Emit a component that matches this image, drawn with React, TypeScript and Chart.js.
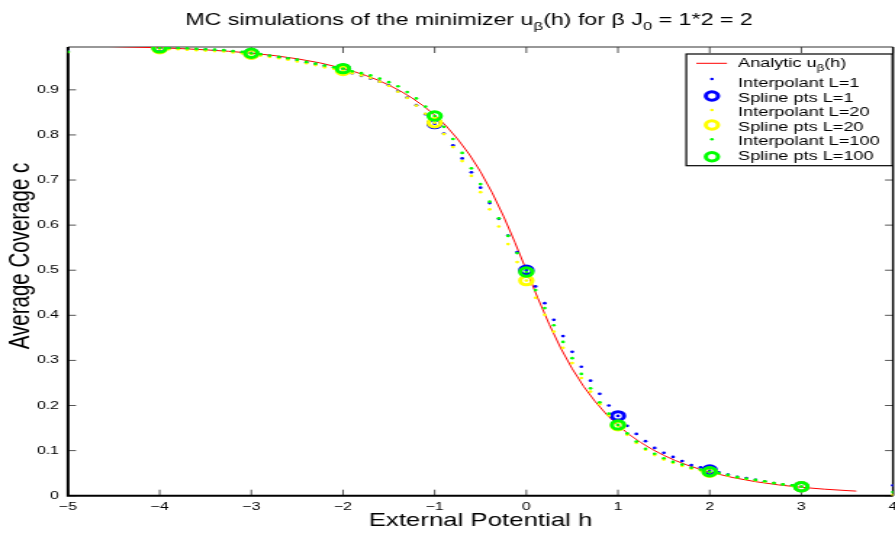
import React, { useEffect, useRef } from 'react';
import { Chart, registerables } from 'chart.js';
Chart.register(...registerables);

// The reference picture is horizontally stretched; draw on a narrower canvas and stretch it.
const W = 617;
const H = 533;
const SX = 895 / W;
const FONT = '"Liberation Sans", Arial, Helvetica, sans-serif';

// ---------- data ----------
const xTickValues = [-5, -4, -3, -2, -1, 0, 1, 2, 3, 4];
const xTickLabels = ['\u22125', '\u22124', '\u22123', '\u22122', '\u22121', '0', '1', '2', '3', '4'];
const yTickValues = [0, 0.1, 0.2, 0.3, 0.4, 0.5, 0.6, 0.7, 0.8, 0.9];
const yTickLabels = ['0', '0.1', '0.2', '0.3', '0.4', '0.5', '0.6', '0.7', '0.8', '0.9'];

// Analytic curve u_beta(h)
const analyticH = [-5, -4.5, -4, -3.75, -3.5, -3.25, -3, -2.75, -2.5, -2.25, -2, -1.875, -1.75, -1.625, -1.5, -1.375, -1.25, -1.125, -1, -0.875, -0.75, -0.625, -0.5, -0.375, -0.25, -0.125, 0, 0.125, 0.25, 0.375, 0.5, 0.625, 0.75, 0.875, 1, 1.125, 1.25, 1.375, 1.5, 1.625, 1.75, 1.875, 2, 2.25, 2.5, 2.75, 3, 3.25, 3.5, 3.6];
const analyticC = [0.9975, 0.9959, 0.9933, 0.9913, 0.9887, 0.9855, 0.9814, 0.976, 0.9689, 0.9597, 0.9476, 0.9402, 0.9317, 0.922, 0.9106, 0.8974, 0.8823, 0.8647, 0.844, 0.82, 0.791, 0.7576, 0.7185, 0.6727, 0.62, 0.5619, 0.5, 0.4381, 0.38, 0.3273, 0.2815, 0.2424, 0.209, 0.18, 0.156, 0.1353, 0.1177, 0.1026, 0.0894, 0.078, 0.0683, 0.0598, 0.0524, 0.0403, 0.0311, 0.024, 0.0186, 0.0145, 0.0113, 0.0102];

// Interpolant grid (h)
const interpH = [-5,
  -4, -3.9, -3.8, -3.7, -3.6, -3.5, -3.4, -3.3, -3.2, -3.1,
  -3, -2.9, -2.8, -2.7, -2.6, -2.5, -2.4, -2.3, -2.2, -2.1,
  -2, -1.9, -1.8, -1.7, -1.6, -1.5, -1.4, -1.3, -1.2, -1.1,
  -1, -0.9, -0.8, -0.7, -0.6, -0.5, -0.4, -0.3, -0.2, -0.1,
  0, 0.1, 0.2, 0.3, 0.4, 0.5, 0.6, 0.7, 0.8, 0.9,
  1, 1.1, 1.2, 1.3, 1.4, 1.5, 1.6, 1.7, 1.8, 1.9,
  2, 2.1, 2.2, 2.3, 2.4, 2.5, 2.6, 2.7, 2.8, 2.9,
  3, 4];

const interpL1 = [0.986,
  0.992, 0.992, 0.992, 0.991, 0.990, 0.989, 0.988, 0.987, 0.985, 0.983,
  0.980, 0.978, 0.975, 0.972, 0.969, 0.966, 0.961, 0.957, 0.953, 0.949,
  0.946, 0.937, 0.931, 0.925, 0.918, 0.910, 0.897, 0.883, 0.866, 0.846,
  0.825, 0.803, 0.777, 0.748, 0.717, 0.683, 0.649, 0.614, 0.577, 0.540,
  0.500, 0.464, 0.427, 0.390, 0.354, 0.319, 0.286, 0.255, 0.226, 0.200,
  0.177, 0.155, 0.137, 0.121, 0.106, 0.095, 0.086, 0.077, 0.068, 0.063,
  0.057, 0.052, 0.047, 0.042, 0.039, 0.035, 0.032, 0.028, 0.025, 0.023,
  0.020, 0.023];

const interpL20 = [0.984,
  0.991, 0.990, 0.990, 0.989, 0.988, 0.987, 0.986, 0.985, 0.983, 0.981,
  0.979, 0.976, 0.973, 0.970, 0.967, 0.963, 0.959, 0.955, 0.950, 0.947,
  0.943, 0.937, 0.932, 0.926, 0.918, 0.909, 0.896, 0.882, 0.865, 0.847,
  0.827, 0.802, 0.773, 0.742, 0.709, 0.673, 0.635, 0.597, 0.558, 0.518,
  0.477, 0.439, 0.401, 0.364, 0.328, 0.294, 0.261, 0.231, 0.203, 0.178,
  0.155, 0.135, 0.117, 0.102, 0.090, 0.080, 0.073, 0.066, 0.060, 0.056,
  0.052, 0.049, 0.045, 0.041, 0.037, 0.034, 0.031, 0.028, 0.025, 0.022,
  0.020, 0.002];

const interpL100 = [0.984,
  0.993, 0.993, 0.993, 0.992, 0.991, 0.990, 0.989, 0.988, 0.986, 0.984,
  0.981, 0.979, 0.976, 0.973, 0.970, 0.967, 0.962, 0.958, 0.954, 0.950,
  0.947, 0.941, 0.937, 0.932, 0.925, 0.917, 0.908, 0.895, 0.881, 0.863,
  0.842, 0.818, 0.791, 0.760, 0.726, 0.691, 0.652, 0.615, 0.576, 0.538,
  0.496, 0.456, 0.416, 0.378, 0.341, 0.305, 0.270, 0.238, 0.207, 0.182,
  0.157, 0.138, 0.120, 0.104, 0.093, 0.083, 0.075, 0.069, 0.062, 0.058,
  0.053, 0.050, 0.046, 0.041, 0.038, 0.035, 0.032, 0.028, 0.025, 0.023,
  0.020, 0.008];

// Spline points
const splineH = [-4, -3, -2, -1, 0, 1, 2, 3];
const splineL1 = [0.993, 0.980, 0.946, 0.825, 0.500, 0.177, 0.057, 0.020];
const splineL20 = [0.991, 0.979, 0.943, 0.827, 0.477, 0.155, 0.052, 0.020];
const splineL100 = [0.993, 0.981, 0.947, 0.842, 0.496, 0.157, 0.053, 0.020];

const legendLabels = ['Interpolant L=1', 'Spline pts L=1', 'Interpolant L=20', 'Spline pts L=20', 'Interpolant L=100', 'Spline pts L=100'];

const RED = '#ff0000';
const BLUE = '#0000ff';
const YELLOW = '#ffff00';
const GREEN = '#00ff00';

const pts = (xs: number[], ys: number[]) => xs.map((x, i) => ({ x, y: ys[i] }));

type Part = { t: string; sub?: boolean };

function drawRich(ctx: CanvasRenderingContext2D, parts: Part[], x: number, y: number, size: number, align: 'center' | 'left') {
  const subSize = size * 0.72;
  const widths = parts.map((p) => {
    ctx.font = `${p.sub ? subSize : size}px ${FONT}`;
    return ctx.measureText(p.t).width;
  });
  const total = widths.reduce((a, b) => a + b, 0);
  let cx = align === 'center' ? x - total / 2 : x;
  ctx.textAlign = 'left';
  ctx.textBaseline = 'alphabetic';
  parts.forEach((p, i) => {
    ctx.font = `${p.sub ? subSize : size}px ${FONT}`;
    ctx.fillText(p.t, cx, y + (p.sub ? size * 0.32 : 0));
    cx += widths[i];
  });
}

export default function App() {
  const ref = useRef<HTMLCanvasElement>(null);

  useEffect(() => {
    const canvas = ref.current;
    if (!canvas) return;

    const framePlugin = {
      id: 'frame',
      beforeDatasetsDraw(chart: any) {
        const { ctx, chartArea: a, scales } = chart;
        ctx.save();
        // tick marks (inside)
        ctx.strokeStyle = '#555';
        ctx.lineWidth = 1;
        ctx.beginPath();
        xTickValues.forEach((v) => {
          const px = scales.x.getPixelForValue(v);
          ctx.moveTo(px, a.bottom);
          ctx.lineTo(px, a.bottom - 6);
          ctx.moveTo(px, a.top);
          ctx.lineTo(px, a.top + 6);
        });
        yTickValues.forEach((v) => {
          const py = scales.y.getPixelForValue(v);
          ctx.moveTo(a.left, py);
          ctx.lineTo(a.left + 5.5, py);
          ctx.moveTo(a.right, py);
          ctx.lineTo(a.right - 5.5, py);
        });
        ctx.stroke();
        // top border (thin)
        ctx.strokeStyle = '#333';
        ctx.lineWidth = 1.2;
        ctx.beginPath();
        ctx.moveTo(a.left, a.top);
        ctx.lineTo(a.right, a.top);
        ctx.stroke();
        // left, bottom, right (thick)
        ctx.strokeStyle = '#000';
        ctx.lineWidth = 2;
        ctx.beginPath();
        ctx.moveTo(a.left, a.top);
        ctx.lineTo(a.left, a.bottom);
        ctx.lineTo(a.right, a.bottom);
        ctx.stroke();
        ctx.lineWidth = 1.4;
        ctx.beginPath();
        ctx.moveTo(a.right, a.top);
        ctx.lineTo(a.right, a.bottom);
        ctx.stroke();
        ctx.restore();
      },
      afterDraw(chart: any) {
        const { ctx, chartArea: a } = chart;
        ctx.save();
        ctx.fillStyle = '#000';
        // title
        drawRich(
          ctx,
          [
            { t: 'MC simulations of the minimizer u' },
            { t: '\u03b2', sub: true },
            { t: '(h) for \u03b2 J' },
            { t: '0', sub: true },
            { t: ' = 1*2 = 2' },
          ],
          469 / SX,
          25,
          16,
          'center'
        );
        // x label
        ctx.font = `17.8px ${FONT}`;
        ctx.textAlign = 'center';
        ctx.textBaseline = 'alphabetic';
        ctx.fillText('External Potential h', (a.left + a.right) / 2, 526);
        // y label
        ctx.save();
        ctx.font = `20.5px ${FONT}`;
        ctx.translate(20, 256);
        ctx.rotate(-Math.PI / 2);
        ctx.fillText('Average Coverage c', 0, 0);
        ctx.restore();

        // legend
        const bx = 473.1, by = 54, bw = 615.2 - 473.1, bh = 165.7 - 54;
        ctx.fillStyle = '#fff';
        ctx.fillRect(bx, by, bw, bh);
        ctx.strokeStyle = '#000';
        ctx.lineWidth = 1.2;
        ctx.strokeRect(bx, by, bw, bh);
        const symX = 490.8;
        const textX = 508.8;
        const fs = 12.5;
        ctx.fillStyle = '#000';
        drawRich(ctx, [{ t: 'Analytic u' }, { t: '\u03b2', sub: true }, { t: '(h)' }], textX, 67.2, fs, 'left');
        ctx.strokeStyle = RED;
        ctx.lineWidth = 1;
        ctx.beginPath();
        ctx.moveTo(480, 63.3);
        ctx.lineTo(501.2, 63.3);
        ctx.stroke();
        const rowText = [87.2, 101.8, 115.5, 130.5, 144.5, 159.5];
        const rowSym = [79, 96, 110, 125, 139.3, 156.7];
        const colors = [BLUE, BLUE, YELLOW, YELLOW, GREEN, GREEN];
        legendLabels.forEach((lab, i) => {
          ctx.fillStyle = '#000';
          ctx.font = `${fs}px ${FONT}`;
          ctx.textAlign = 'left';
          ctx.textBaseline = 'alphabetic';
          ctx.fillText(lab, textX, rowText[i]);
          if (i % 2 === 0) {
            ctx.fillStyle = colors[i];
            ctx.beginPath();
            ctx.arc(symX, rowSym[i], 1.3, 0, Math.PI * 2);
            ctx.fill();
          } else {
            ctx.strokeStyle = colors[i];
            ctx.lineWidth = 3;
            ctx.beginPath();
            ctx.arc(symX, rowSym[i], 4.2, 0, Math.PI * 2);
            ctx.stroke();
          }
        });
        ctx.restore();
      },
    };

    const dot = (data: any, color: string, order: number, label: string) => ({
      label,
      data,
      showLine: false,
      pointRadius: 1.35,
      pointBorderWidth: 0,
      pointBackgroundColor: color,
      pointBorderColor: color,
      order,
    });
    const ring = (data: any, color: string, order: number, label: string) => ({
      label,
      data,
      showLine: false,
      pointRadius: 4.2,
      pointBorderWidth: 3,
      pointBackgroundColor: 'rgba(0,0,0,0)',
      pointBorderColor: color,
      order,
    });

    const chart = new Chart(canvas, {
      type: 'scatter',
      data: {
        datasets: [
          {
            label: 'Analytic',
            data: pts(analyticH, analyticC),
            showLine: true,
            borderColor: RED,
            borderWidth: 1,
            pointRadius: 0,
            fill: false,
            order: 7,
          } as any,
          dot(pts(interpH, interpL1), BLUE, 6, legendLabels[0]),
          ring(pts(splineH, splineL1), BLUE, 5, legendLabels[1]),
          dot(pts(interpH, interpL20), YELLOW, 4, legendLabels[2]),
          ring(pts(splineH, splineL20), YELLOW, 3, legendLabels[3]),
          dot(pts(interpH, interpL100), GREEN, 2, legendLabels[4]),
          ring(pts(splineH, splineL100), GREEN, 1, legendLabels[5]),
        ],
      },
      options: {
        responsive: false,
        animation: false,
        devicePixelRatio: 1,
        layout: { autoPadding: false, padding: { top: 47, right: W - 893 / SX, left: 0, bottom: 0 } },
        plugins: {
          legend: { display: false },
          title: { display: false },
          tooltip: { enabled: false },
        },
        scales: {
          x: {
            type: 'linear',
            min: -5,
            max: 4,
            grid: { display: false, drawTicks: false },
            border: { display: false },
            afterBuildTicks: (s: any) => {
              s.ticks = xTickValues.map((v) => ({ value: v }));
            },
            ticks: {
              color: '#000',
              font: { family: FONT, size: 11 },
              padding: 5,
              maxRotation: 0,
              autoSkip: false,
              callback: (_v: any, i: number) => xTickLabels[i],
            },
            afterFit: (s: any) => {
              s.height = 533 - 495.7;
              s.paddingLeft = 0;
              s.paddingRight = 0;
            },
          },
          y: {
            type: 'linear',
            min: 0,
            max: 0.995,
            grid: { display: false, drawTicks: false },
            border: { display: false },
            afterBuildTicks: (s: any) => {
              s.ticks = yTickValues.map((v) => ({ value: v }));
            },
            ticks: {
              color: '#000',
              font: { family: FONT, size: 11 },
              padding: 6.2,
              autoSkip: false,
              callback: (_v: any, i: number) => yTickLabels[i],
            },
            afterFit: (s: any) => {
              s.width = 68 / SX;
              s.paddingTop = 0;
              s.paddingBottom = 0;
            },
          },
        },
      } as any,
      plugins: [framePlugin],
    });

    return () => chart.destroy();
  }, []);

  return (
    <div style={{ position: 'fixed', left: 0, top: 0, width: 895, height: 533, background: '#fff', overflow: 'hidden' }}>
      <canvas ref={ref} width={W} height={H} style={{ width: '895px', height: '533px', display: 'block' }} />
    </div>
  );
}
